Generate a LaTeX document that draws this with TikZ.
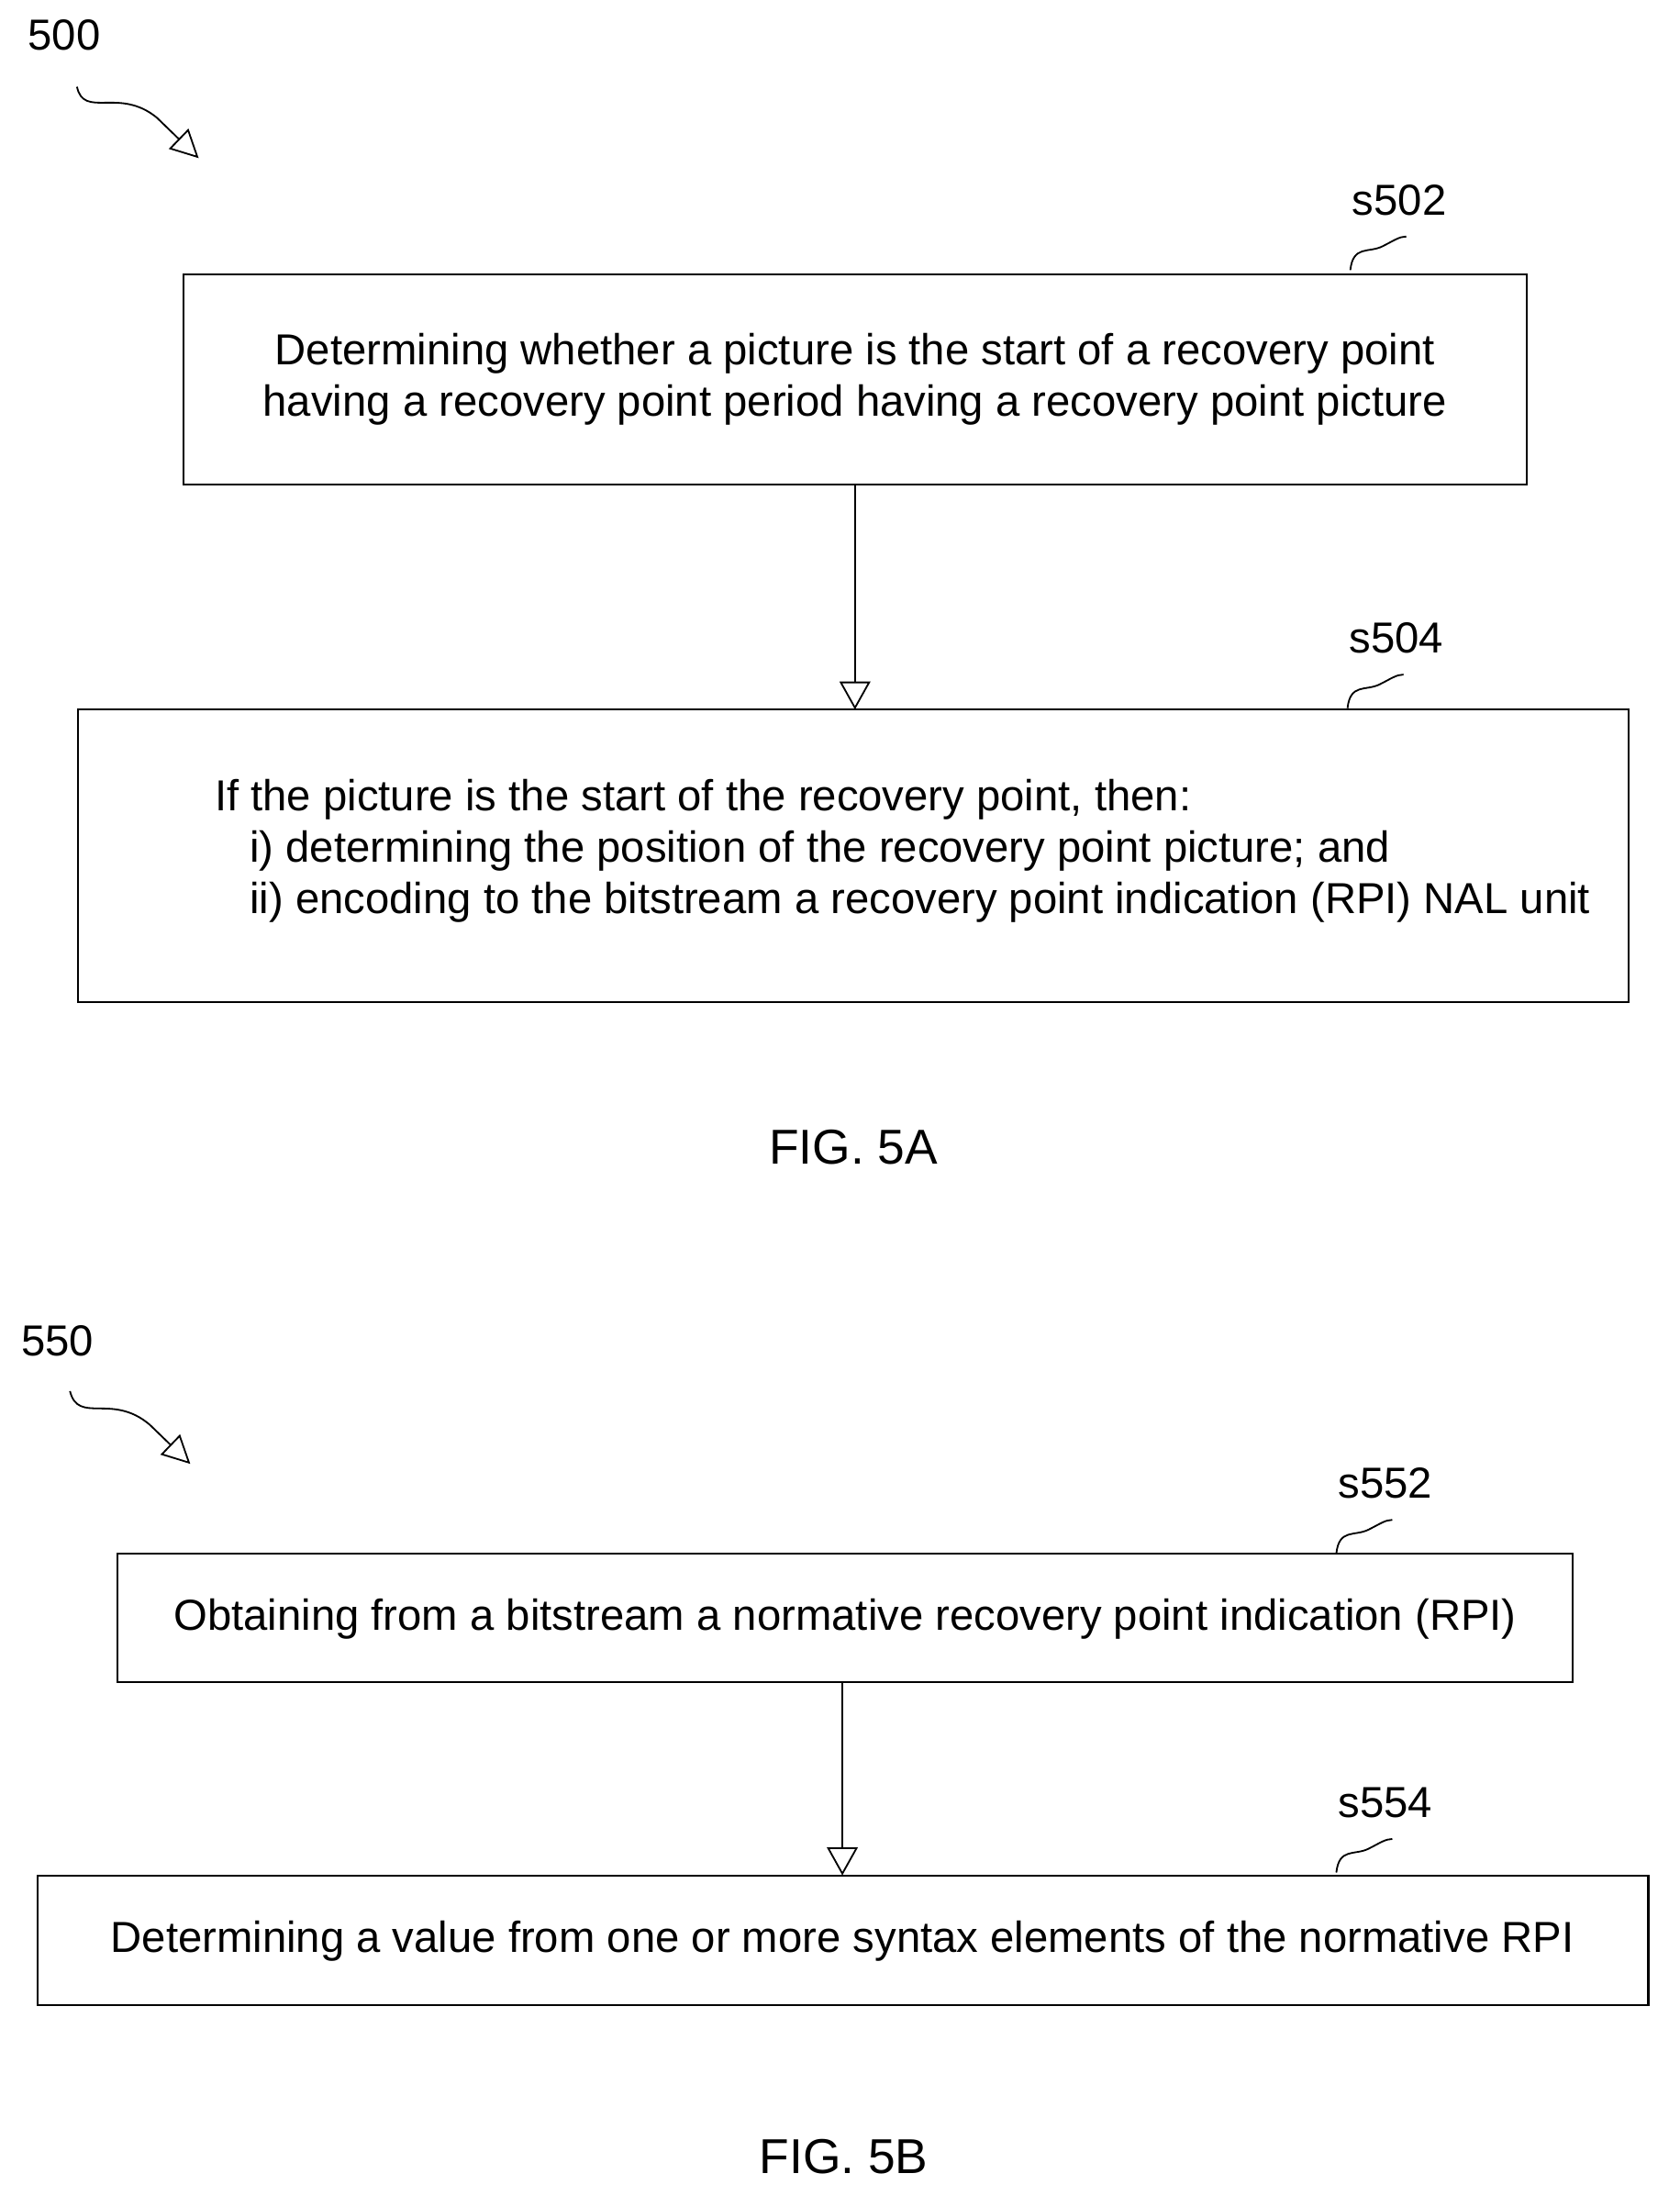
\documentclass[tikz,border=0pt]{standalone}
\usepackage{fontspec}
\setmainfont{Liberation Sans}
\usetikzlibrary{arrows.meta}
\begin{document}
\begin{tikzpicture}[x=1pt,y=-1pt,
  box/.style={draw,line width=1.4pt},
  txt/.style={font=\fontsize{31}{37}\selectfont},
  lab/.style={font=\fontsize{31}{34}\selectfont},
  fig/.style={font=\fontsize{35}{38}\selectfont},
  flow/.style={line width=1.2pt,-{Triangle[open,length=20pt,width=22pt]}},
  ref/.style={line width=1.2pt,-{Triangle[open,length=20pt,width=20pt]}},
  sq/.style={line width=1.2pt}]
\useasboundingbox (0,0) rectangle (1200,1577);
% boxes
\draw[box] (131,196) rectangle (1091,346);
\node[txt,align=center] (t1) at (611,271) {Determining whether a picture is the start of a recovery point\\having a recovery point period having a recovery point picture};
\coordinate (b1) at (611,346);
\draw[box] (56,507) rectangle (1164,716);
\coordinate (b2) at (611,507);
\node[txt,align=left,anchor=north west] (t2) at (150,553) {If the picture is the start of the recovery point, then:\\\hspace*{25pt}i) determining the position of the recovery point picture; and\\\hspace*{25pt}ii) encoding to the bitstream a recovery point indication (RPI) NAL unit};
\draw[box] (84,1110) rectangle (1124,1202);
\node[txt] (t3) at (604,1157) {Obtaining from a bitstream a normative recovery point indication (RPI)};
\coordinate (b3) at (602,1202);
\draw[box] (27,1340) rectangle (1178,1433);
\coordinate (b4) at (602,1340);
\node[txt] (t4) at (602,1387) {Determining a value from one or more syntax elements of the normative RPI};
\draw[flow] (b1) -- (b2);
\draw[flow] (b3) -- (b4);
% figure labels
\node[fig] (f1) at (610,820) {FIG. 5A};
\node[fig] (f2) at (603,1541) {FIG. 5B};
% reference numerals
\node[lab] (n500) at (46,25) {500};
\coordinate (a1) at (55,62);
\coordinate (a2) at (142,113);
\draw[ref] (a1) .. controls (60,85) and (85,62) .. (112,84) -- (a2);
\node[lab] (n550) at (41,958) {550};
\coordinate (c1) at (50,994);
\coordinate (c2) at (136,1046);
\draw[ref] (c1) .. controls (56,1018) and (80,995) .. (107,1018) -- (c2);
% step labels
\foreach \n/\x/\y in {s502/1000/143, s504/998/456, s552/990/1060, s554/990/1288}{
  \node[lab] (\n) at (\x,\y) {\n};
  \draw[sq] (\x-35,\y+50) .. controls (\x-33,\y+32) and (\x-22,\y+38) .. (\x-12,\y+33) .. controls (\x-4,\y+29) and (\x,\y+26) .. (\x+5,\y+26);
}
\end{tikzpicture}
\end{document}
